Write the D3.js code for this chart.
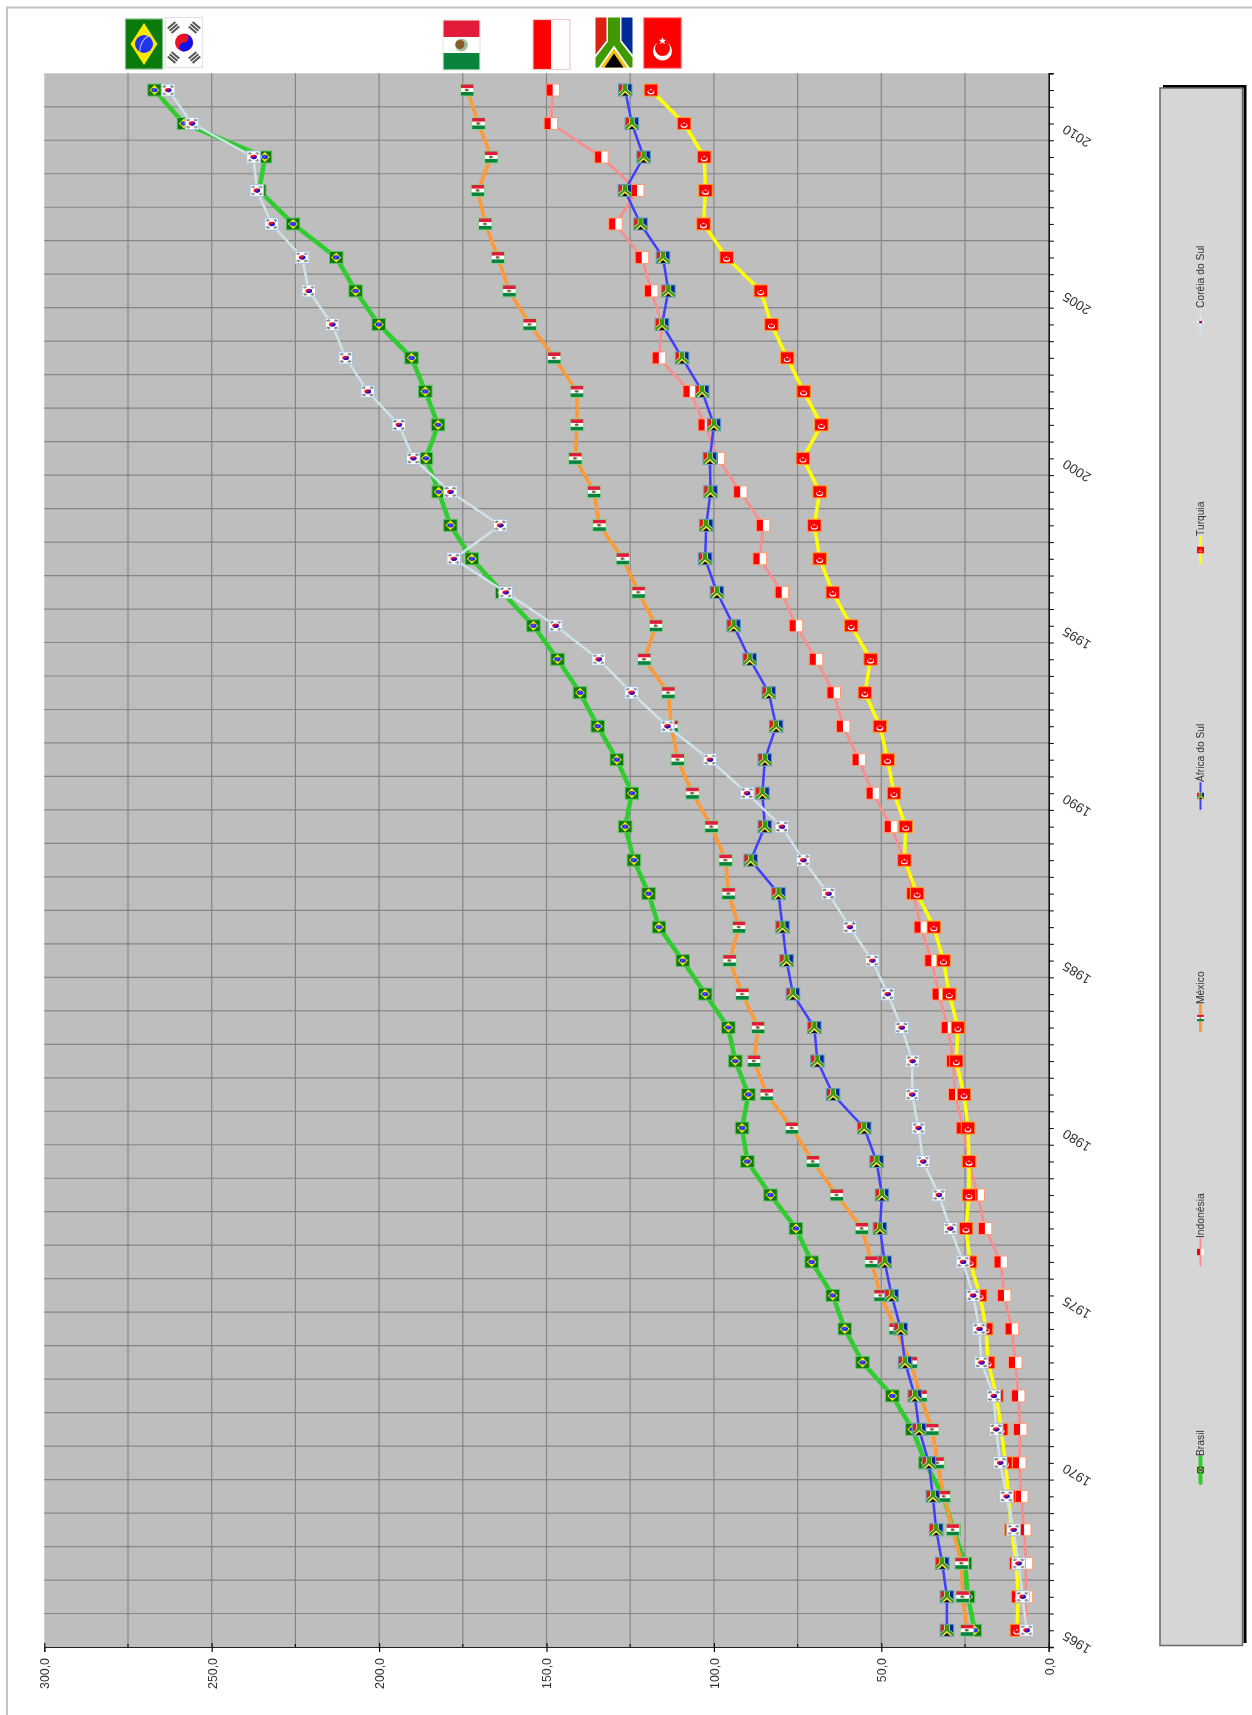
<!DOCTYPE html>
<html>
<head>
<meta charset="utf-8">
<script src="https://cdn.jsdelivr.net/npm/d3@7"></script>
<style>
  html, body { margin: 0; padding: 0; background: #fff; overflow: hidden; }
  svg { display: block; filter: blur(0.45px); }
  text { font-family: "Liberation Sans", Arial, sans-serif; fill: #333; }
</style>
</head>
<body>
<div id="chart-area"></div>
<script>
var years = [1965,1966,1967,1968,1969,1970,1971,1972,1973,1974,
             1975,1976,1977,1978,1979,1980,1981,1982,1983,1984,
             1985,1986,1987,1988,1989,1990,1991,1992,1993,1994,
             1995,1996,1997,1998,1999,2000,2001,2002,2003,2004,
             2005,2006,2007,2008,2009,2010,2011];
var yearLabels = [1965,1970,1975,1980,1985,1990,1995,2000,2005,2010];
var valueTicks = [0,50,100,150,200,250,300];
var minorTicks = [25,75,125,175,225,275];

var brasil = [22.1,24.1,25,28.4,31.5,36.8,40.7,46.7,55.6,60.9,
              64.5,70.8,75.5,83.1,90,91.6,89.7,93.6,95.7,102.6,
              109.3,116.4,119.5,123.9,126.5,124.5,129,134.7,140,146.7,
              153.9,163.2,172.3,178.7,182.2,186,182.4,186.2,190.3,200.1,
              207,212.8,225.7,235.8,234.1,258.3,267.1];
var indonesia = [6.8,6.8,6.8,7.3,8.2,8.8,8.5,9.1,10,11,
                 13.3,14.3,19,21.2,23.8,25.6,27.9,28.5,30.1,32.8,
                 35,38.2,40.4,43.1,47.1,52.5,56.7,61.4,64.2,69.5,
                 75.5,79.7,86.3,85.3,92.1,98.8,102.7,107.2,116.4,115.5,
                 118.7,121.5,129.4,122.9,133.6,148.7,148.1];
var mexico = [24.4,25.7,26,28.6,31.3,33.2,34.8,38.3,41.2,45.7,
              50.2,52.9,55.8,63.3,70.4,76.7,84.2,88,86.8,91.5,
              95.3,92.5,95.6,96.5,100.7,106.4,110.8,112.7,113.6,120.8,
              117.3,122.5,127.2,134.2,135.8,141.4,140.9,140.9,147.7,155,
              161.1,164.5,168.3,170.5,166.5,170.3,173.7];
var africa = [30.4,30.4,31.8,33.6,34.6,35.8,38.7,40,42.9,44.2,
              46.9,49,50.4,49.8,51.4,55.1,64.4,69.1,70,76.4,
              78.3,79.5,80.7,89,84.8,85.5,84.8,81.4,83.6,89.3,
              94.1,99.1,102.6,102.3,101,101.2,100,103.5,109.5,115.5,
              113.6,115.2,121.9,126.6,121,124.5,126.5];
var turquia = [9.5,9.1,9.7,11.1,12,12.9,14.2,15.6,18.1,18.7,
               20.5,23.5,24.7,23.8,23.8,24.1,25.3,27.6,27.1,29.7,
               31.4,34.3,39.3,43.1,42.7,46.2,48.1,50.4,54.9,53.2,
               59,64.5,68.4,70,68.4,73.4,67.9,73.2,78.1,82.8,
               86,96.2,103.1,102.5,102.9,108.9,118.8];
var coreia = [6.6,7.8,9,10.5,12.6,14.5,15.7,16.4,20.1,20.7,
              22.6,25.6,29.4,32.8,37.5,38.9,40.8,40.7,43.9,48.1,
              52.7,59.4,65.8,73.3,79.7,90.1,101.2,113.9,124.6,134.4,
              147.3,162.2,177.7,163.8,178.7,189.8,194.1,203.4,210,214,
              221,223,232.1,236.5,237.5,255.9,263];

// draw order is the legend order, last one ends up on top
var series = [
  {name: "Brasil",        flag: "br", values: brasil,    color: "#2fcd2f", lw: 4.5, border: "#62c262"},
  {name: "Indonésia",     flag: "id", values: indonesia, color: "#ff8a8a", lw: 2.5, border: "#ff9a70"},
  {name: "México",        flag: "mx", values: mexico,    color: "#ff9933", lw: 3.5, border: "#8fd08f"},
  {name: "África do Sul", flag: "za", values: africa,    color: "#3f3fff", lw: 2.5, border: "#5a9ac0"},
  {name: "Turquia",       flag: "tr", values: turquia,   color: "#ffff00", lw: 3.5, border: "#ff9a20"},
  {name: "Coréia do Sul", flag: "kr", values: coreia,    color: "#cfe2e8", lw: 2.5, border: "#a8c4e0"}
];

var margin = {top: 73.3, left: 44.3, right: 1048.7, bottom: 1647};
var width = 1252;
var height = 1715;

var svg = d3.select("#chart-area").append("svg")
    .attr("width", width)
    .attr("height", height);

var x = d3.scaleLinear().domain([0, 300]).range([margin.right, margin.left]);
var y = d3.scaleBand().domain(years).range([margin.bottom, margin.top]);
var yEdge = d3.scaleLinear().domain([0, years.length]).range([margin.bottom, margin.top]);
var yMid = (d) => { return y(d) + y.bandwidth() / 2; };

// flags, all on a 37x50 portrait box because the whole chart is turned on its side
var defs = svg.append("defs");
defs.append("g").attr("id", "flag-br").html(
  '<rect width="37" height="50" fill="#0a7a0a"/>' +
  '<path d="M18.5 4L32 25L18.5 46L5 25Z" fill="#ffe800"/>' +
  '<circle cx="18.5" cy="25" r="9" fill="#2233ee"/>' +
  '<path d="M14 33Q15 21 23 17" fill="none" stroke="#a8b4f4" stroke-width="1.2"/>');
defs.append("g").attr("id", "flag-id").html(
  '<rect width="37" height="50" fill="#fff"/>' +
  '<rect width="18" height="50" fill="#ff0000"/>');
defs.append("g").attr("id", "flag-mx").html(
  '<rect width="37" height="50" fill="#fff"/>' +
  '<rect width="37" height="17" fill="#e31b3a"/>' +
  '<rect y="33" width="37" height="17" fill="#08843e"/>' +
  '<circle cx="18.5" cy="25" r="6.5" fill="#9fbf9f"/>' +
  '<circle cx="17" cy="24.5" r="4.5" fill="#8a5a2a"/>');
defs.append("g").attr("id", "flag-za").html(
  '<rect width="37" height="50" fill="#fff"/>' +
  '<path d="M0 0H11V23L0 37Z" fill="#de2010"/>' +
  '<path d="M26 0H37V37L26 23Z" fill="#002a96"/>' +
  '<path d="M12.5 0H24.5V24L37 40V50H34L18.5 28L3 50H0V40L12.5 24Z" fill="#3f9a00"/>' +
  '<path d="M5 50L18.5 31L32 50Z" fill="#f4c20d"/>' +
  '<path d="M9 50L18.5 36L28 50Z" fill="#000"/>');
defs.append("g").attr("id", "flag-tr").html(
  '<rect width="37" height="50" fill="#ff0000"/>' +
  '<circle cx="18.5" cy="33" r="9.5" fill="#fff"/>' +
  '<circle cx="18.5" cy="30.5" r="7.5" fill="#ff0000"/>' +
  '<path d="M18.5 19L19.5 21.7L22.3 21.8L20.1 23.5L20.9 26.2L18.5 24.6L16.1 26.2L16.9 23.5L14.7 21.8L17.5 21.7Z" fill="#fff"/>');
defs.append("g").attr("id", "flag-kr").html(
  '<rect width="37" height="50" fill="#fff"/>' +
  '<circle cx="18.5" cy="25" r="9" fill="#ee1122"/>' +
  '<path d="M18.5 16A9 9 0 0 1 18.5 34A4.5 4.5 0 0 1 18.5 25A4.5 4.5 0 0 0 18.5 16Z" fill="#1111ee"/>' +
  [[8, 10, -40], [29, 10, 40], [8, 40, 40], [29, 40, -40]].map((t) => {
    return '<g transform="translate(' + t[0] + ',' + t[1] + ') rotate(' + t[2] + ')" fill="#555">' +
      '<rect x="-5" y="-4" width="10" height="2"/><rect x="-5" y="-1" width="10" height="2"/><rect x="-5" y="2" width="10" height="2"/></g>';
  }).join(""));

// outer frame, only top and left show
svg.append("path")
    .attr("d", "M7 1715V7.5H1252")
    .attr("fill", "none")
    .attr("stroke", "#c4c4c4")
    .attr("stroke-width", 2);

// plot area
svg.append("rect")
    .attr("x", margin.left)
    .attr("y", margin.top)
    .attr("width", margin.right - margin.left)
    .attr("height", margin.bottom - margin.top)
    .attr("fill", "#bebebe");

svg.append("g").selectAll("line")
    .data(valueTicks.concat(minorTicks).filter((d) => { return d > 0 && d < 300; }))
    .enter().append("line")
    .attr("x1", (d) => { return x(d); })
    .attr("x2", (d) => { return x(d); })
    .attr("y1", margin.top)
    .attr("y2", margin.bottom)
    .attr("stroke", "#858585")
    .attr("stroke-width", 1.2);

svg.append("g").selectAll("line")
    .data(d3.range(1, years.length))
    .enter().append("line")
    .attr("x1", margin.left)
    .attr("x2", margin.right)
    .attr("y1", (d) => { return yEdge(d); })
    .attr("y2", (d) => { return yEdge(d); })
    .attr("stroke", "#858585")
    .attr("stroke-width", 1.2);

// value axis along the bottom
var xAxis = svg.append("g")
    .attr("transform", "translate(0," + margin.bottom + ")")
    .call(d3.axisBottom(x).tickValues(valueTicks).tickSize(5)
        .tickFormat((d) => { return d.toFixed(1).replace(".", ","); }));
xAxis.select(".domain").attr("stroke", "#222").attr("stroke-width", 1.2);
xAxis.selectAll(".tick line").attr("y1", -4).attr("stroke", "#111").attr("stroke-width", 1.2);
xAxis.selectAll("text")
    .attr("x", 0)
    .attr("y", 0)
    .attr("dy", ".35em")
    .attr("text-anchor", "end")
    .attr("transform", "translate(0,11) rotate(-90)")
    .style("font-size", "12.4px")
    .style("font-family", '"Liberation Sans", Arial, sans-serif');
svg.append("g")
    .attr("transform", "translate(0," + margin.bottom + ")")
    .selectAll("line")
    .data(minorTicks)
    .enter().append("line")
    .attr("x1", (d) => { return x(d); })
    .attr("x2", (d) => { return x(d); })
    .attr("y1", -3)
    .attr("y2", 0)
    .attr("stroke", "#111")
    .attr("stroke-width", 1.2);

// year axis down the right side
var yAxis = svg.append("g")
    .attr("transform", "translate(" + margin.right + ",0)")
    .call(d3.axisRight(yEdge).tickValues(d3.range(0, years.length + 0.5, 0.5)).tickSize(5).tickFormat(""));
yAxis.select(".domain").attr("stroke", "#111").attr("stroke-width", 1.6);
yAxis.selectAll(".tick line").attr("stroke", "#111").attr("stroke-width", 1.1);

svg.append("g").selectAll("text")
    .data(yearLabels)
    .enter().append("text")
    .attr("text-anchor", "middle")
    .attr("dy", ".35em")
    .attr("transform", (d) => { return "translate(" + (margin.right + 28) + "," + (yMid(d) + 12.5) + ") rotate(212)"; })
    .style("font-size", "13.5px")
    .text((d) => { return d; });

// lines and flag markers
var line = d3.line()
    .x((d) => { return x(d); })
    .y((d, i) => { return yMid(years[i]); });

series.forEach((s) => {
  var g = svg.append("g");
  g.append("path")
      .attr("d", line(s.values))
      .attr("fill", "none")
      .attr("stroke", s.color)
      .attr("stroke-width", s.lw)
      .attr("stroke-linejoin", "round");
  var marks = g.selectAll("g")
      .data(s.values)
      .enter().append("g")
      .attr("transform", (d, i) => { return "translate(" + x(d) + "," + yMid(years[i]) + ")"; });
  marks.append("use")
      .attr("href", "#flag-" + s.flag)
      .attr("transform", "scale(" + (13.5 / 37) + "," + (12 / 50) + ") translate(-18.5,-25)");
  marks.append("rect")
      .attr("x", -6.75)
      .attr("y", -6)
      .attr("width", 13.5)
      .attr("height", 12)
      .attr("fill", "none")
      .attr("stroke", s.border)
      .attr("stroke-width", 1);
});

// big flags above the plot, one per series
var bigFlags = [
  {flag: "br", left: 125.5, top: 19, border: "#7fb97f"},
  {flag: "kr", left: 165.5, top: 17.5, border: "#e2e2e2"},
  {flag: "mx", left: 443, top: 20, border: "#dfe8df"},
  {flag: "id", left: 533, top: 19.5, border: "#eecaca"},
  {flag: "za", left: 595.5, top: 17.5, border: "none"},
  {flag: "tr", left: 644, top: 18, border: "#ff4040"}
];
var big = svg.append("g").selectAll("g")
    .data(bigFlags)
    .enter().append("g")
    .attr("transform", (d) => { return "translate(" + d.left + "," + d.top + ")"; });
big.append("use").attr("href", (d) => { return "#flag-" + d.flag; });
big.append("rect")
    .attr("width", 37)
    .attr("height", 50)
    .attr("fill", "none")
    .attr("stroke", (d) => { return d.border; })
    .attr("stroke-width", 1.2);

// legend box with its shadow on the top and right
svg.append("path")
    .attr("d", "M1163 86.5H1245V1643")
    .attr("fill", "none")
    .attr("stroke", "#000")
    .attr("stroke-width", 3);
svg.append("rect")
    .attr("x", 1160)
    .attr("y", 88)
    .attr("width", 82.5)
    .attr("height", 1557.5)
    .attr("fill", "#d6d6d6")
    .attr("stroke", "#666")
    .attr("stroke-width", 1.5);

var legendY = [1470, 1252, 1018, 796, 550, 322];
var legend = svg.append("g").selectAll("g")
    .data(series)
    .enter().append("g")
    .attr("transform", (d, i) => { return "translate(1200.5," + legendY[i] + ")"; });
legend.append("line")
    .attr("y1", -13)
    .attr("y2", 13)
    .attr("stroke", (d) => { return d.color; })
    .attr("stroke-width", (d) => { return Math.max(d.lw - 0.5, 2); })
    .attr("stroke-linecap", "round");
legend.append("use")
    .attr("href", (d) => { return "#flag-" + d.flag; })
    .attr("transform", "scale(" + (7 / 37) + "," + (6.5 / 50) + ") translate(-18.5,-25)");
legend.append("text")
    .attr("dy", ".35em")
    .attr("text-anchor", "start")
    .attr("transform", "translate(0,-14) rotate(-90)")
    .style("font-size", "10.3px")
    .text((d) => { return d.name; });
</script>
</body>
</html>
